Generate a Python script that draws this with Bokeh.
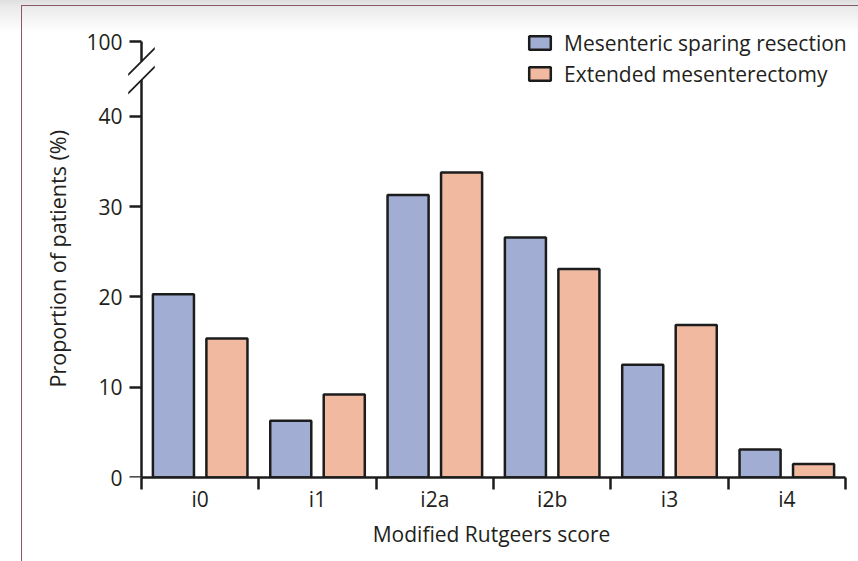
from bokeh.plotting import figure
from bokeh.models import (Range1d, FixedTicker, Legend, LegendItem, ColumnDataSource,
                          BoxAnnotation, PolyAnnotation, LinearAxis, Title)
from bokeh.transform import dodge
from bokeh.embed import file_html
from bokeh.resources import INLINE

# ---- data ----
categories = ["i0", "i1", "i2a", "i2b", "i3", "i4"]
sparing = [20.3, 6.3, 31.3, 26.6, 12.5, 3.1]
extended = [15.4, 9.2, 33.8, 23.1, 16.9, 1.5]
series_names = ["Mesenteric sparing resection", "Extended mesenterectomy"]
y_ticks = [0, 10, 20, 30, 40]
y_break_label = "100"

# ---- style ----
FONT = "Open Sans"
TEXT = "#231f20"
BLUE = "#a2add3"
ORANGE = "#f0b9a0"
EDGE = "#1c1c1c"
Y_TOP = 48.3            # axis position where the "100" tick is drawn (broken axis)
Y_END = 51.19           # frame top (room for the legend)
X_START = -0.645        # frame starts a little left of the axis (room for break marks)
X_END = 5.611
BREAK_LO, BREAK_HI = 44.05, 46.1

x = list(range(len(categories)))
src = ColumnDataSource(dict(x=x, sparing=sparing, extended=extended))

p = figure(width=858, height=561, output_backend="svg", toolbar_location=None,
           x_range=Range1d(X_START, X_END), y_range=Range1d(0, Y_END),
           min_border_left=124, min_border_right=0, min_border_top=15, min_border_bottom=84)
p.xgrid.visible = False
p.ygrid.visible = False
p.outline_line_color = None
p.background_fill_alpha = 0
p.border_fill_alpha = 0
p.styles = {
    "background": (
        "linear-gradient(#87566a,#87566a) 21px 5px / 1px 556px no-repeat, "
        "linear-gradient(#87566a,#87566a) 21px 5px / 837px 1px no-repeat, "
        "linear-gradient(to bottom, #dedede 0px, #e9e9e9 6px, #ffffff 32px) 0 0 / 100% 40px no-repeat, "
        "#ffffff"
    )
}

r1 = p.vbar(x=dodge("x", -0.228, range=p.x_range), top="sparing", width=0.35, source=src,
            fill_color=BLUE, line_color=EDGE, line_width=2.5)
r2 = p.vbar(x=dodge("x", 0.228, range=p.x_range), top="extended", width=0.35, source=src,
            fill_color=ORANGE, line_color=EDGE, line_width=2.5)

# x axis
xa = p.xaxis[0]
xa.bounds = (-0.5, len(categories) - 0.5)
xa.ticker = FixedTicker(ticks=x, minor_ticks=[i - 0.5 for i in range(len(categories) + 1)])
xa.major_label_overrides = {i: c for i, c in zip(x, categories)}
xa.major_tick_out = 0
xa.major_tick_in = 0
xa.minor_tick_out = 12
xa.minor_tick_in = 0
xa.minor_tick_line_width = 2.5
xa.minor_tick_line_color = EDGE
xa.axis_line_width = 2.5
xa.axis_line_color = EDGE
xa.major_label_standoff = -5
xa.major_label_text_font = FONT
xa.major_label_text_font_size = "21px"
xa.major_label_text_color = TEXT
xa.axis_label = "Modified Rutgeers score"
xa.axis_label_text_font = FONT
xa.axis_label_text_font_size = "21px"
xa.axis_label_text_font_style = "normal"
xa.axis_label_text_color = TEXT
xa.axis_label_standoff = 4

y_ticker = FixedTicker(ticks=y_ticks + [Y_TOP])

# y axis line and ticks (drawn at x = -0.5, inside the frame)
ya = p.yaxis[0]
ya.fixed_location = -0.5
ya.bounds = (0, Y_TOP)
ya.ticker = y_ticker
ya.major_tick_out = 12
ya.major_tick_in = 0
ya.major_tick_line_width = 2.5
ya.major_tick_line_color = EDGE
ya.minor_tick_line_color = None
ya.axis_line_width = 2.5
ya.axis_line_color = EDGE
ya.major_label_text_color = None

# y tick labels
yl = LinearAxis(ticker=y_ticker, bounds=(0, Y_TOP))
yl.major_label_overrides = {Y_TOP: y_break_label}
yl.axis_line_color = None
yl.major_tick_line_color = None
yl.minor_tick_line_color = None
yl.major_tick_out = 0
yl.major_tick_in = 0
yl.major_label_standoff = 2
yl.major_label_text_font = FONT
yl.major_label_text_font_size = "21px"
yl.major_label_text_color = TEXT
p.add_layout(yl, "left")

# y axis title (placed along the axis, matching the original)
p.add_layout(Title(text="Proportion of patients (%)", align="left", offset=90, standoff=24,
                   text_font=FONT, text_font_size="21.5px", text_font_style="normal",
                   text_color=TEXT), "left")

# axis break: white gap + two slashes
p.add_layout(BoxAnnotation(left=-0.53, right=-0.47, bottom=BREAK_LO, top=BREAK_HI,
                           fill_color="white", fill_alpha=1, line_color=None, level="overlay"))
dx, dy, th = 0.113, 1.47, 0.14
for c in (BREAK_LO, BREAK_HI):
    p.add_layout(PolyAnnotation(xs=[-0.5 - dx, -0.5 + dx, -0.5 + dx, -0.5 - dx],
                                ys=[c - dy - th, c + dy - th, c + dy + th, c - dy + th],
                                fill_color=EDGE, fill_alpha=1, line_color=None, level="overlay"))

legend = Legend(items=[LegendItem(label=series_names[0], renderers=[r1]),
                       LegendItem(label=series_names[1], renderers=[r2])],
                location=(402, 388), padding=0, margin=0, spacing=0,
                background_fill_alpha=0, border_line_color=None,
                glyph_width=27, glyph_height=17, label_standoff=11, label_height=31,
                label_text_font=FONT, label_text_font_size="21px", label_text_color=TEXT)
p.add_layout(legend)

open("out.html", "w").write(file_html(p, INLINE))
